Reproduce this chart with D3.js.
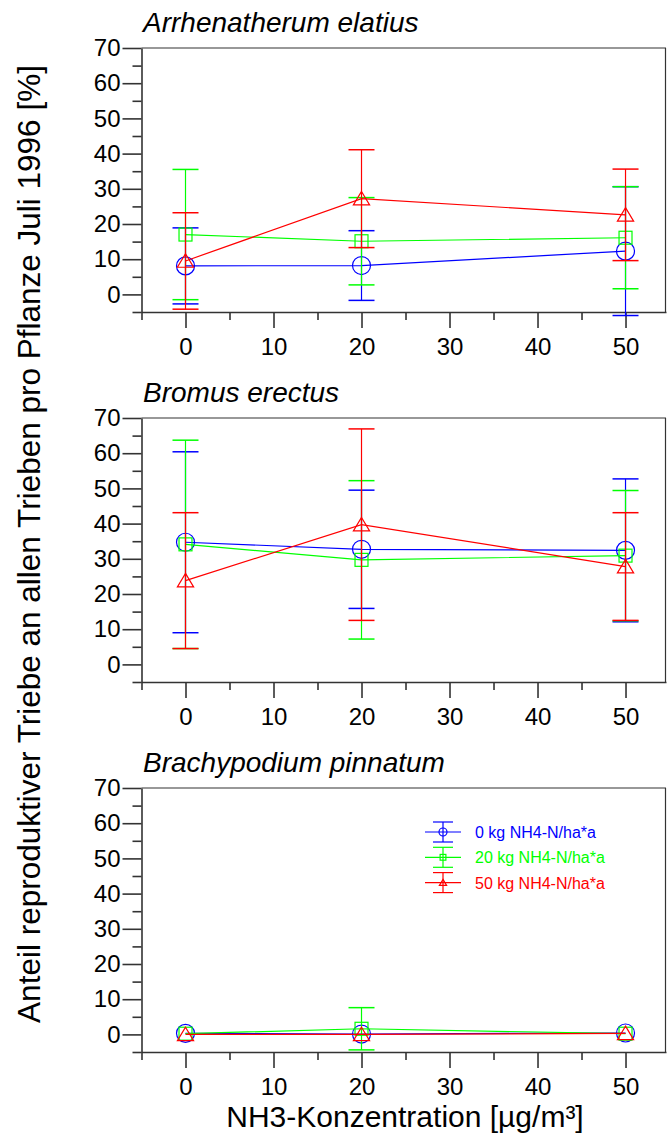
<!DOCTYPE html>
<html>
<head>
<meta charset="utf-8">
<script src="https://cdn.jsdelivr.net/npm/d3@7"></script>
<style>
  body { margin: 0; background: #fff; }
  svg text { font-family: "Liberation Sans", Arial, sans-serif; }
</style>
</head>
<body>
<div id="chart"></div>
<script>
var concentrations = [0, 20, 50];
var speciesNames = ["Arrhenatherum elatius", "Bromus erectus", "Brachypodium pinnatum"];
var treatmentLabels = ["0 kg NH4-N/ha*a", "20 kg NH4-N/ha*a", "50 kg NH4-N/ha*a"];
var treatmentColors = ["#0000ff", "#00ff00", "#ff0000"];
var treatmentSymbols = ["circle", "square", "triangle"];

// rows = treatment (0, 20, 50 kg), columns = NH3 concentration
var arrhenatherumMeans  = [[8.1, 8.2, 12.3], [17.0, 15.1, 16.1], [9.5, 27.2, 22.6]];
var arrhenatherumErrors = [[10.8, 9.9, 18.3], [18.5, 12.4, 14.5], [13.7, 13.9, 13.0]];
var bromusMeans  = [[34.7, 32.7, 32.4], [34.1, 29.7, 30.9], [23.8, 39.7, 27.8]];
var bromusErrors = [[25.7, 16.8, 20.3], [29.6, 22.5, 18.5], [19.3, 27.2, 15.3]];
var brachypodiumMeans  = [[0.3, 0.1, 0.4], [0.2, 1.6, 0.2], [0.0, 0.0, 0.3]];
var brachypodiumErrors = [[0, 0, 0], [0, 6.0, 0], [0, 0, 0]];

var yTickValues = [0, 10, 20, 30, 40, 50, 60, 70];
var yMinorTicks = [-5, 5, 15, 25, 35, 45, 55, 65];
var xTickValues = [0, 10, 20, 30, 40, 50];
var xMinorTicks = [-5, 5, 15, 25, 35, 45];

function init() {
    var w = 667, h = 1137;
    var left = 141.5, right = 666;
    var panelTops = [48, 418, 788],
        panelH = 264;
    var axisColor = "#333";

    var allMeans = [arrhenatherumMeans, bromusMeans, brachypodiumMeans];
    var allErrors = [arrhenatherumErrors, bromusErrors, brachypodiumErrors];

    var svg = d3.select("#chart")
        .append("svg")
        .attr("width", w)
        .attr("height", h);

    var xScale = d3.scaleLinear()
        .domain([-5, 54.6])
        .range([left, right]);

    function marker(g, kind, cx, cy, s, color) {
        if (kind == "circle") {
            g.append("circle")
                .attr("cx", cx).attr("cy", cy).attr("r", s)
                .attr("fill", "none").attr("stroke", color).attr("stroke-width", 1.2);
        } else if (kind == "square") {
            g.append("rect")
                .attr("x", cx - s * 0.72).attr("y", cy - s * 0.72)
                .attr("width", s * 1.44).attr("height", s * 1.44)
                .attr("fill", "none").attr("stroke", color).attr("stroke-width", 1.2);
        } else {
            var p = d3.path();
            p.moveTo(cx, cy - s * 0.8);
            p.lineTo(cx + s * 0.9, cy + s * 0.7);
            p.lineTo(cx - s * 0.9, cy + s * 0.7);
            p.closePath();
            g.append("path")
                .attr("d", p.toString())
                .attr("fill", "none").attr("stroke", color).attr("stroke-width", 1.2);
        }
    }

    speciesNames.forEach(function(name, pi) {
        var top = panelTops[pi];
        var yScale = d3.scaleLinear()
            .domain([-5, 70])
            .range([top + panelH, top]);

        var g = svg.append("g");

        // title
        g.append("text")
            .attr("x", 143)
            .attr("y", top - 16)
            .style("font-size", "28px")
            .style("font-style", "italic")
            .text(name);

        // frame top + right
        g.append("line")
            .attr("x1", left).attr("x2", right)
            .attr("y1", top).attr("y2", top)
            .attr("stroke", axisColor).attr("stroke-width", 1.2);
        g.append("line")
            .attr("x1", right - 0.5).attr("x2", right - 0.5)
            .attr("y1", top).attr("y2", top + panelH)
            .attr("stroke", axisColor).attr("stroke-width", 1.2);

        // y axis
        var yAxis = g.append("g")
            .attr("transform", `translate(${left}, 0)`)
            .call(d3.axisLeft(yScale).tickValues(yTickValues).tickSize(19).tickSizeOuter(0).tickPadding(2));
        yAxis.selectAll("text").style("font-size", "24px").attr("fill", "#000");
        g.append("g")
            .attr("transform", `translate(${left}, 0)`)
            .call(d3.axisLeft(yScale).tickValues(yMinorTicks).tickSize(9).tickFormat(""))
            .select(".domain").remove();

        // x axis
        var xAxis = g.append("g")
            .attr("transform", `translate(0, ${top + panelH})`)
            .call(d3.axisBottom(xScale).tickValues(xTickValues).tickSize(16).tickSizeOuter(0).tickPadding(10));
        xAxis.selectAll("text").style("font-size", "24px").attr("fill", "#000");
        g.append("g")
            .attr("transform", `translate(0, ${top + panelH})`)
            .call(d3.axisBottom(xScale).tickValues(xMinorTicks).tickSize(8).tickFormat(""))
            .select(".domain").remove();

        g.selectAll(".domain, .tick line")
            .attr("stroke", axisColor)
            .attr("stroke-width", 1.6);

        // series
        treatmentLabels.forEach(function(label, ti) {
            var color = treatmentColors[ti];
            var means = allMeans[pi][ti];
            var errs = allErrors[pi][ti];
            var pts = concentrations.map(function(c, i) {
                return {x: c, y: means[i], e: errs[i]};
            });

            var line = d3.line()
                .x(d => xScale(d.x))
                .y(d => yScale(d.y));

            g.append("path")
                .datum(pts)
                .attr("d", line)
                .attr("fill", "none")
                .attr("stroke", color)
                .attr("stroke-width", 1.2);

            pts.forEach(function(d) {
                if (d.e > 0) {
                    var cx = xScale(d.x);
                    g.append("line")
                        .attr("x1", cx).attr("x2", cx)
                        .attr("y1", yScale(d.y - d.e)).attr("y2", yScale(d.y + d.e))
                        .attr("stroke", color).attr("stroke-width", 1.2);
                    [d.y - d.e, d.y + d.e].forEach(function(v) {
                        g.append("line")
                            .attr("x1", cx - 13).attr("x2", cx + 13)
                            .attr("y1", yScale(v)).attr("y2", yScale(v))
                            .attr("stroke", color).attr("stroke-width", 1.5);
                    });
                }
                marker(g, treatmentSymbols[ti], xScale(d.x), yScale(d.y), 9, color);
            });
        });
    });

    // legend in last panel
    var legend = svg.append("g");
    treatmentLabels.forEach(function(label, ti) {
        var cy = 832 + ti * 25.3, cx = 443;
        var color = treatmentColors[ti];
        legend.append("line")
            .attr("x1", cx - 18).attr("x2", cx + 18)
            .attr("y1", cy).attr("y2", cy)
            .attr("stroke", color).attr("stroke-width", 1.2);
        legend.append("line")
            .attr("x1", cx).attr("x2", cx)
            .attr("y1", cy - 10).attr("y2", cy + 10)
            .attr("stroke", color).attr("stroke-width", 1.2);
        [cy - 10, cy + 10].forEach(function(v) {
            legend.append("line")
                .attr("x1", cx - 10).attr("x2", cx + 10)
                .attr("y1", v).attr("y2", v)
                .attr("stroke", color).attr("stroke-width", 1.2);
        });
        marker(legend, treatmentSymbols[ti], cx, cy, 4, color);
        legend.append("text")
            .attr("x", 475)
            .attr("y", cy + 6)
            .attr("fill", color)
            .style("font-size", "16px")
            .text(label);
    });

    // axis titles
    svg.append("text")
        .attr("x", 405)
        .attr("y", 1127)
        .style("text-anchor", "middle")
        .style("font-size", "30px")
        .text("NH3-Konzentration [µg/m³]");

    svg.append("text")
        .attr("transform", "translate(40, 544) rotate(-90)")
        .style("text-anchor", "middle")
        .style("font-size", "31.5px")
        .text("Anteil reproduktiver Triebe an allen Trieben pro Pflanze Juli 1996 [%]");
}

window.onload = init;
</script>
</body>
</html>
